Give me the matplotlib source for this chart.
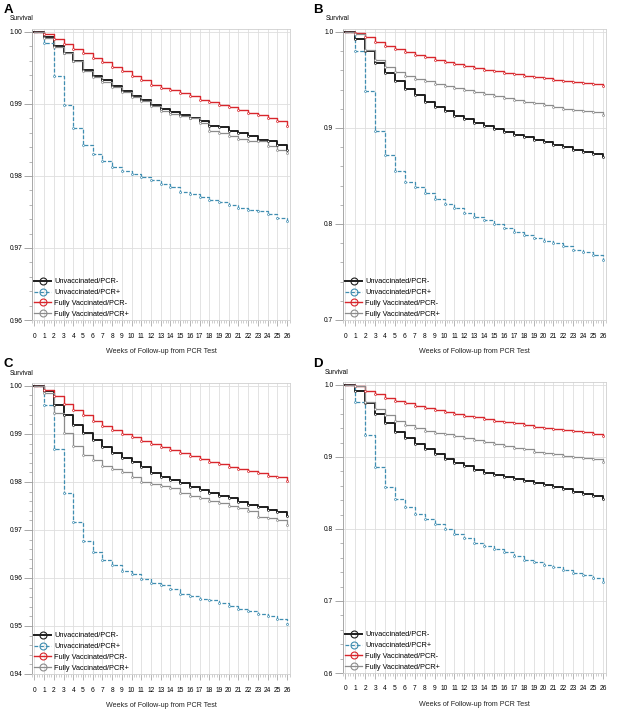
import matplotlib
matplotlib.use('Agg')
import matplotlib.pyplot as plt
from matplotlib.lines import Line2D
from matplotlib.ticker import MultipleLocator, FormatStrFormatter

plt.rcParams['font.family'] = ['Liberation Sans', 'DejaVu Sans']

weeks = list(range(27))
labels = ['Unvaccinated/PCR-', 'Unvaccinated/PCR+', 'Fully Vaccinated/PCR-', 'Fully Vaccinated/PCR+']

# panel A
a_unvax_neg = [1.0, 0.99926, 0.99801, 0.99708, 0.99593, 0.99477, 0.99394, 0.99329, 0.99255, 0.99176, 0.99116, 0.9906, 0.98991, 0.98931,
               0.98884, 0.98852, 0.98806, 0.98759, 0.98699, 0.98676, 0.9863, 0.98597, 0.98551, 0.98505, 0.98481, 0.98435, 0.9836]
a_unvax_pos = [1.0, 0.9984, 0.9939, 0.9899, 0.9867, 0.9843, 0.9830, 0.9821, 0.9813, 0.9807, 0.9803, 0.9799, 0.9794, 0.9789,
               0.9784, 0.9778, 0.9775, 0.9771, 0.9767, 0.9764, 0.9759, 0.9755, 0.9753, 0.9751, 0.9747, 0.9742, 0.9737]
a_vax_neg = [1.0, 0.99972, 0.99903, 0.99838, 0.99769, 0.99704, 0.9964, 0.99579, 0.99514, 0.99454, 0.99394, 0.99333, 0.99269, 0.99222,
             0.9919, 0.99148, 0.99106, 0.9906, 0.99032, 0.98986, 0.98954, 0.98921, 0.98875, 0.9884, 0.9881, 0.9876, 0.9869]
a_vax_pos = [1.0, 0.9992, 0.9979, 0.99705, 0.996, 0.9945, 0.9938, 0.993, 0.9924, 0.9916, 0.991, 0.9904, 0.9897, 0.989,
             0.98865, 0.9883, 0.988, 0.9874, 0.9863, 0.986, 0.9856, 0.9851, 0.9849, 0.9848, 0.9842, 0.9836, 0.9832]

# panel B
b_unvax_neg = [1.0, 0.993, 0.9798, 0.9676, 0.9571, 0.9484, 0.9404, 0.9338, 0.9275, 0.9223, 0.9171, 0.9125, 0.9091, 0.9056,
               0.9021, 0.8986, 0.8955, 0.893, 0.8902, 0.8875, 0.885, 0.8822, 0.8798, 0.877, 0.8749, 0.8725, 0.8693]
b_unvax_pos = [1.0, 0.9805, 0.9387, 0.8972, 0.8714, 0.8554, 0.8441, 0.8382, 0.8319, 0.8257, 0.8208, 0.8163, 0.8111, 0.8076,
               0.8042, 0.8, 0.7962, 0.792, 0.7885, 0.7851, 0.7823, 0.7799, 0.7771, 0.7729, 0.7705, 0.7677, 0.7625]
b_vax_neg = [1.0, 0.999, 0.9944, 0.9895, 0.9857, 0.9822, 0.9787, 0.9763, 0.9735, 0.9711, 0.969, 0.9669, 0.9648, 0.9627,
             0.9606, 0.9589, 0.9571, 0.9557, 0.9544, 0.953, 0.9516, 0.9502, 0.9491, 0.9477, 0.9467, 0.9453, 0.9432]
b_vax_pos = [1.0, 0.998, 0.9815, 0.9704, 0.963, 0.9578, 0.9544, 0.9512, 0.9484, 0.946, 0.9439, 0.9418, 0.9397, 0.9373,
             0.9352, 0.9328, 0.9307, 0.9293, 0.9275, 0.9258, 0.924, 0.9223, 0.9202, 0.9188, 0.9178, 0.9164, 0.9136]

# panel C
c_unvax_neg = [1.0, 0.99895, 0.9961, 0.99387, 0.99178, 0.99017, 0.98864, 0.98725, 0.986, 0.98502, 0.98411, 0.98307, 0.98181, 0.98111,
               0.98042, 0.97972, 0.97902, 0.97833, 0.97763, 0.97714, 0.97666, 0.97582, 0.97526, 0.9747, 0.97415, 0.97366, 0.97296]
c_unvax_pos = [1.0, 0.9961, 0.9869, 0.9777, 0.97157, 0.96779, 0.96537, 0.9638, 0.96263, 0.96145, 0.96076, 0.95986, 0.95896, 0.95848,
               0.95779, 0.95675, 0.95619, 0.95571, 0.95536, 0.9548, 0.95412, 0.95363, 0.95315, 0.95259, 0.95204, 0.95142, 0.95038]
c_vax_neg = [1.0, 0.99923, 0.99784, 0.99631, 0.99505, 0.99387, 0.99268, 0.99164, 0.99087, 0.99003, 0.98934, 0.9885, 0.9878, 0.98725,
             0.98669, 0.986, 0.98544, 0.98481, 0.98425, 0.98376, 0.98321, 0.98272, 0.98223, 0.98181, 0.98132, 0.98098, 0.98028]
c_vax_pos = [1.0, 0.9986, 0.99436, 0.99017, 0.98739, 0.98564, 0.9846, 0.98341, 0.98272, 0.98202, 0.98098, 0.97993, 0.97958, 0.97923,
             0.97868, 0.97763, 0.97714, 0.97659, 0.9761, 0.97554, 0.97505, 0.97456, 0.97401, 0.97275, 0.97247, 0.97206, 0.97108]

# panel D
d_unvax_neg = [1.0, 0.9917, 0.9745, 0.9597, 0.9468, 0.9352, 0.9259, 0.9181, 0.9106, 0.9037, 0.8972, 0.8921, 0.8875, 0.8819,
               0.8782, 0.875, 0.8718, 0.869, 0.8667, 0.8644, 0.8611, 0.8588, 0.8551, 0.8519, 0.8486, 0.8458, 0.8412]
d_unvax_pos = [1.0, 0.9769, 0.9306, 0.8866, 0.8588, 0.8412, 0.8301, 0.8208, 0.8134, 0.8065, 0.7995, 0.7931, 0.787, 0.781,
               0.7764, 0.7718, 0.7674, 0.7628, 0.7572, 0.7535, 0.7498, 0.7465, 0.7433, 0.7395, 0.7358, 0.7321, 0.7265]
d_vax_neg = [1.0, 0.9986, 0.9921, 0.987, 0.9824, 0.9782, 0.9745, 0.9708, 0.9676, 0.9653, 0.9625, 0.9597, 0.9569, 0.9551,
             0.9528, 0.9505, 0.9486, 0.9468, 0.9444, 0.9421, 0.9407, 0.9394, 0.9375, 0.9361, 0.9343, 0.932, 0.9292]
d_vax_pos = [1.0, 0.9986, 0.9769, 0.9662, 0.9583, 0.9505, 0.9444, 0.9398, 0.9366, 0.9338, 0.9319, 0.9296, 0.9259, 0.9236,
             0.9208, 0.9181, 0.9157, 0.913, 0.9106, 0.9074, 0.906, 0.9042, 0.9019, 0.8995, 0.8981, 0.8968, 0.8935]

# line styles, same order as labels
colors = ['#1e1e1e', '#3f8db0', '#d8262c', '#8c8c8c']
widths = [1.4, 0.9, 1.0, 0.9]
styles = ['-', (0, (3, 1.5)), '-', '-']

W, H = 620, 725


def px_axes(fig, left, top, right, bottom):
    return fig.add_axes([left / W, 1 - bottom / H, (right - left) / W, (bottom - top) / H])


def draw_panel(fig, box, series, ylim, major, minor, fmt, letter, letter_xy, surv_xy):
    ax = px_axes(fig, *box)
    for vals, c, lw, ls in zip(series, colors, widths, styles):
        ax.step(weeks, vals, where='post', color=c, lw=lw, linestyle=ls, zorder=3)
        ax.plot(weeks[1:], vals[1:], 'o', ms=1.4, mfc='white', mec=c, mew=0.5, zorder=4)

    ax.set_xlim(-0.25, 26.3)
    ax.set_ylim(*ylim)
    ax.xaxis.set_major_locator(MultipleLocator(1))
    ax.xaxis.set_minor_locator(MultipleLocator(0.25))
    ax.yaxis.set_major_locator(MultipleLocator(major))
    ax.yaxis.set_minor_locator(MultipleLocator(minor))
    ax.yaxis.set_major_formatter(FormatStrFormatter(fmt))
    ax.grid(True, which='major', color='#dedede', lw=0.6, zorder=0)
    for s in ax.spines.values():
        s.set_color('#d0d0d0')
        s.set_linewidth(0.6)
    ax.spines['left'].set_color('#999999')
    ax.tick_params(axis='y', which='major', length=6, width=0.6, color='#999999', labelsize=4.8, pad=1)
    ax.tick_params(axis='y', which='minor', length=2.5, width=0.5, color='#999999')
    ax.tick_params(axis='x', which='major', length=4, width=0.5, color='#999999', labelsize=4.8, pad=5)
    ax.tick_params(axis='x', which='minor', length=2.5, width=0.4, color='#aaaaaa')
    ax.set_xlabel('Weeks of Follow-up from PCR Test', fontsize=5.1, labelpad=6, color='#222222')

    handles = [Line2D([0], [0], color=c, lw=lw, linestyle=ls, marker='o', ms=5, mfc='none', mec=c, mew=0.8)
               for c, lw, ls in zip(colors, widths, styles)]
    ax.legend(handles, labels, loc='lower left', frameon=False, fontsize=5.3, handlelength=2.3,
              handletextpad=0.4, labelspacing=0.5, borderaxespad=0.1, borderpad=0.2)

    fig.text(letter_xy[0] / W, 1 - letter_xy[1] / H, letter, fontsize=9.5, fontweight='bold', va='baseline')
    fig.text(surv_xy[0] / W, 1 - surv_xy[1] / H, 'Survival', fontsize=4.8, va='center')
    return ax


fig = plt.figure(figsize=(W / 100, H / 100), dpi=100)

draw_panel(fig, (32, 29, 290, 320), [a_unvax_neg, a_unvax_pos, a_vax_neg, a_vax_pos],
           (0.96, 1.0004), 0.01, 0.002, '%.2f', 'A', (4, 13), (10, 19))
draw_panel(fig, (343, 29, 606, 320), [b_unvax_neg, b_unvax_pos, b_vax_neg, b_vax_pos],
           (0.7, 1.003), 0.1, 0.02, '%.1f', 'B', (313, 13), (326, 19))
draw_panel(fig, (32, 383, 290, 674), [c_unvax_neg, c_unvax_pos, c_vax_neg, c_vax_pos],
           (0.94, 1.0006), 0.01, 0.002, '%.2f', 'C', (4, 367), (10, 373))
draw_panel(fig, (343, 382, 606, 673), [d_unvax_neg, d_unvax_pos, d_vax_neg, d_vax_pos],
           (0.6, 1.004), 0.1, 0.02, '%.1f', 'D', (313, 367), (325, 372))

fig.savefig('out.png', dpi=100)
